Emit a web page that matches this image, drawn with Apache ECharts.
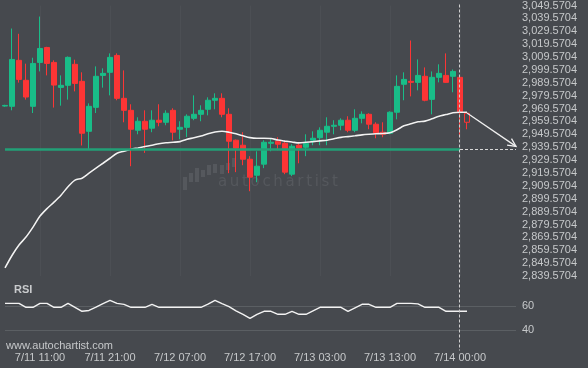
<!DOCTYPE html>
<html>
<head>
<meta charset="utf-8">
<script src="https://cdn.jsdelivr.net/npm/echarts@6/dist/echarts.min.js"></script>
<style>
html,body{margin:0;padding:0;background:#46494e;}
#c{width:588px;height:368px;}
</style>
</head>
<body>
<div id="c"></div>
<script>
// ---- data ----
const skipHour = '7/13 17:00';
function buildCategories(n) {
  const out = []; let d = 11, h = 6;
  while (out.length < n) {
    const lbl = '7/' + d + ' ' + String(h).padStart(2, '0') + ':00';
    if (lbl !== skipHour) out.push(lbl);
    h++; if (h === 24) { h = 0; d++; }
  }
  return out;
}
const categories = buildCategories(74);

// [open, close, low, high]
const candles = [
[2971.5,2972.0,2971.0,2972.5],[2971.3,3007.7,2968.2,3031.7],[3007.0,2992.2,2989.7,3027.6],[2991.5,2978.5,2976.5,3004.4],
[2971.3,3004.6,2966.1,3009.0],[3005.4,3016.2,2998.4,3041.0],[3017.0,3004.6,2995.3,3017.5],[3005.4,2987.8,2970.3,3007.0],
[2986.0,2987.6,2971.8,2995.3],[2987.6,3009.3,2976.5,3010.0],[3003.9,2989.1,2982.9,3007.5],[2990.7,2950.4,2940.9,2997.7],
[2951.9,2971.3,2938.0,2973.6],[2970.5,2994.6,2966.1,3002.3],[2995.3,2996.9,2985.8,3000.8],[2997.7,3009.3,2979.8,3012.4],
[3010.8,2977.5,2976.0,3012.4],[2977.5,2968.2,2958.9,2999.2],[2968.2,2953.5,2924.8,2972.9],[2952.7,2959.7,2949.6,2962.8],
[2959.7,2953.5,2935.1,2968.2],[2954.3,2960.5,2951.2,2968.2],[2960.5,2958.9,2955.8,2972.9],[2958.9,2965.9,2956.6,2968.2],
[2968.2,2951.2,2944.9,2969.8],[2953.5,2955.0,2945.7,2959.7],[2955.0,2963.6,2947.5,2965.1],[2962.0,2965.1,2960.5,2979.8],
[2965.1,2968.2,2959.7,2972.1],[2969.0,2976.0,2964.3,2978.3],[2976.0,2977.5,2969.0,2981.4],[2977.5,2965.1,2962.8,2981.4],
[2965.1,2944.2,2919.4,2969.8],[2945.0,2938.8,2920.2,2945.5],[2941.1,2930.2,2925.6,2951.2],[2930.2,2916.3,2905.4,2932.6],
[2917.8,2924.8,2912.4,2936.4],[2926.4,2943.4,2923.3,2945.0],[2942.6,2943.4,2936.4,2946.5],[2944.2,2941.9,2937.2,2947.3],
[2942.6,2920.2,2918.6,2944.2],[2918.6,2940.3,2917.1,2941.9],[2941.1,2938.8,2927.1,2942.6],[2939.5,2942.6,2932.6,2949.6],
[2945.0,2946.5,2941.1,2951.9],[2946.9,2952.7,2941.1,2955.0],[2951.2,2955.8,2941.1,2962.8],[2955.8,2956.6,2949.6,2960.5],
[2956.6,2960.5,2952.7,2962.0],[2960.5,2952.7,2951.2,2963.6],[2952.7,2962.0,2951.2,2969.0],[2962.0,2965.1,2958.1,2967.4],
[2965.1,2957.4,2953.5,2965.9],[2957.4,2950.4,2946.5,2958.9],[2951.2,2949.6,2947.3,2958.9],[2950.4,2966.7,2949.6,2967.4],
[2966.7,2986.8,2961.2,2995.3],[2988.4,2992.2,2976.0,2997.7],[2990.7,2989.9,2979.0,3022.4],[2989.9,2995.3,2983.7,3007.7],
[2994.6,2976.0,2975.2,3001.5],[2976.7,2993.8,2965.1,2998.4],[2993.8,2996.9,2989.9,3003.9],[2995.3,2989.9,2989.5,3012.4],
[2994.6,2998.4,2982.2,2999.9],[2993.8,2966.7,2947.3,2994.5],[2965.9,2958.9,2953.5,2965.9]
];
const movingAvg = [2845.8,2855.5,2863.6,2869.8,2877.5,2886.1,2891.9,2896.9,2902.3,2908.9,
2914.0,2915.5,2919.4,2923.3,2927.1,2931.0,2934.9,2936.4,2938.0,2939.0,
2940.1,2941.1,2942.3,2943.0,2943.4,2943.9,2945.7,2946.9,2948.3,2950.0,
2951.3,2951.9,2951.2,2950.0,2948.4,2947.0,2946.5,2946.5,2946.3,2945.1,
2944.3,2943.6,2942.9,2943.4,2943.9,2944.5,2945.0,2946.1,2947.2,2947.8,
2948.4,2949.1,2949.6,2950.0,2950.2,2950.8,2953.1,2956.2,2957.7,2959.3,
2959.8,2961.6,2963.6,2964.9,2966.3,2966.7,2966.7];
const rsiValues = [62.2,62.2,62.2,58.9,58.9,62.2,62.2,58.9,58.9,62.2,
58.9,55.6,56.3,59.0,62.0,64.7,62.2,61.4,58.9,58.9,
58.9,61.4,58.9,58.9,58.9,58.9,58.9,58.9,58.9,61.5,
64.7,62.0,59.5,56.0,53.0,49.7,53.0,55.6,55.6,53.1,
53.1,55.6,53.1,53.1,56.0,58.9,58.9,58.9,58.9,55.6,
58.5,61.4,61.4,58.9,58.9,58.9,62.2,62.2,62.2,61.8,
58.9,58.9,58.9,55.6,55.6,55.6,55.6];
const supportLevel = 2937.8;
const eventIndex = 65;          // 7/14 00:00
const projection = [66, 2966.1, 73, 2940.2]; // start idx, start val, end idx, end val
const yMin = 2839.5704, yMax = 3049.5704, yStep = 10;
const rsiTicks = [40, 60];

// ---- chart ----
const GREEN = '#19bd88', RED = '#fc3535', TXT = '#c6c8ca';
const FONT = '"Liberation Sans", Arial, sans-serif';
const chart = echarts.init(document.getElementById('c'), null, {renderer: 'canvas'});

function fmt(v) {
  const k = Math.round((v - yMin) / yStep);
  const s = (yMin + k * yStep).toFixed(4); const parts = s.split('.');
  return parts[0].replace(/\B(?=(\d{3})+(?!\d))/g, ',') + '.' + parts[1];
}

const candleData = candles.map((c, i) => {
  if (i === candles.length - 1) {
    return {value: c, itemStyle: {color0: 'rgba(0,0,0,0)', borderColor0: RED}};
  }
  return c;
});

// watermark text, letter-spaced
const wmLetters = 'autochartist'.split('');
const wmWidths = {a: 9.2, u: 9.5, t: 5.9, o: 9.2, c: 8.2, h: 9.5, r: 6.2, i: 4.2, s: 7.8};
const wmChildren = [];
let wx = 0;
wmLetters.forEach(ch => {
  wmChildren.push({type: 'text', x: wx, y: 0, style: {text: ch, fill: '#55585d', font: '15px "DejaVu Sans", sans-serif'}});
  wx += wmWidths[ch] + 2.66;
});
const wmBars = [[0, 19, 13], [6, 15, 9], [12, 10, 14], [18, 12, 7], [24, 7, 10], [30, 6, 9], [37, 7, 9], [43, 5, 7], [49, 0, 9]];

const option = {
  backgroundColor: '#46494e',
  animation: false,
  textStyle: {fontFamily: FONT},
  grid: [
    {left: 5, right: 72, top: 5, height: 271},
    {left: 5, right: 72, top: 306, height: 24}
  ],
  xAxis: [
    {type: 'category', gridIndex: 0, data: categories, boundaryGap: false,
     axisLine: {show: false}, axisTick: {show: false}, axisLabel: {show: false},
     splitLine: {show: true, interval: (i) => i % 10 === 5, lineStyle: {color: 'rgba(255,255,255,0.035)'}}},
    {type: 'category', gridIndex: 1, data: categories, boundaryGap: false,
     axisLine: {show: false}, axisTick: {show: false},
     axisLabel: {interval: (i) => i % 10 === 5, color: TXT, fontSize: 11, margin: 22, fontFamily: FONT},
     splitLine: {show: false}}
  ],
  yAxis: [
    {type: 'value', gridIndex: 0, position: 'right', min: yMin, max: yMax, interval: yStep,
     axisLine: {show: false}, axisTick: {show: false}, splitLine: {show: false},
     axisLabel: {formatter: fmt, color: TXT, fontSize: 11, align: 'left', margin: 6, fontFamily: FONT}},
    {type: 'value', gridIndex: 1, position: 'right', min: rsiTicks[0], max: rsiTicks[1], interval: rsiTicks[1] - rsiTicks[0],
     axisLine: {show: false}, axisTick: {show: false},
     splitLine: {show: true, lineStyle: {color: '#5b5f63', width: 1}},
     axisLabel: {color: TXT, fontSize: 11, align: 'left', margin: 6, fontFamily: FONT}}
  ],
  series: [
    {type: 'candlestick', xAxisIndex: 0, yAxisIndex: 0, data: candleData, barWidth: 5,
     itemStyle: {color: GREEN, color0: RED, borderColor: GREEN, borderColor0: RED, borderWidth: 1},
     markLine: {silent: true, symbol: 'none', label: {show: false},
       data: [
         [{coord: [0, supportLevel], lineStyle: {color: '#22a077', width: 2.5, type: 'solid'}},
          {coord: [eventIndex, supportLevel]}],
         [{coord: [eventIndex, supportLevel], lineStyle: {color: '#d8d8d8', width: 1, type: [3, 2]}},
          {coord: [73, supportLevel]}]
       ]}},
    {type: 'line', xAxisIndex: 0, yAxisIndex: 0, data: movingAvg, showSymbol: false, smooth: 0.3,
     lineStyle: {color: '#f2f2f2', width: 1.6, shadowColor: 'rgba(0,0,0,0.25)', shadowBlur: 1}, z: 3},
    {type: 'custom', xAxisIndex: 0, yAxisIndex: 0, data: [projection], encode: {x: [0, 2], y: [1, 3]}, z: 4,
     renderItem: function (params, api) {
       const p1 = api.coord([api.value(0), api.value(1)]);
       const p2 = api.coord([api.value(2), api.value(3)]);
       const ang = Math.atan2(p2[1] - p1[1], p2[0] - p1[0]);
       const L = 9, a = 0.45;
       const h1 = [p2[0] - L * Math.cos(ang - a), p2[1] - L * Math.sin(ang - a)];
       const h2 = [p2[0] - L * Math.cos(ang + a), p2[1] - L * Math.sin(ang + a)];
       const st = {stroke: '#f0f0f0', lineWidth: 1.3, fill: null};
       return {type: 'group', children: [
         {type: 'line', shape: {x1: p1[0], y1: p1[1], x2: p2[0], y2: p2[1]}, style: st},
         {type: 'polyline', shape: {points: [h1, p2, h2]}, style: st}
       ]};
     }},
    {type: 'custom', xAxisIndex: 0, yAxisIndex: 0, data: [[eventIndex, yMax]], encode: {x: 0, y: 1}, z: 5,
     renderItem: function (params, api) {
       const p = api.coord([api.value(0), api.value(1)]);
       const x = Math.round(p[0]) - 0.5;
       return {type: 'line', shape: {x1: x, y1: p[1] - 1, x2: x, y2: p[1] + 345},
               style: {stroke: '#cfcfcf', lineWidth: 1, lineDash: [3, 2]}};
     }},
    {type: 'line', xAxisIndex: 1, yAxisIndex: 1, data: rsiValues, showSymbol: false, clip: false,
     lineStyle: {color: '#f2f2f2', width: 1.4}}
  ],
  graphic: [
    {type: 'text', left: 14, top: 284, style: {text: 'RSI', fill: '#c9cbcd', font: 'bold 11px ' + FONT}},
    {type: 'text', left: 6, top: 340, style: {text: 'www.autochartist.com', fill: '#c6c8ca', font: '11px ' + FONT}},
    {type: 'group', x: 183, y: 158, silent: true, z: -1,
     children: wmBars.map(b => ({type: 'rect', shape: {x: b[0], y: b[1], width: 4, height: b[2]}, style: {fill: '#55585d'}}))},
    {type: 'group', x: 218, y: 175, silent: true, z: -1, children: wmChildren}
  ]
};
chart.setOption(option);
</script>
</body>
</html>
